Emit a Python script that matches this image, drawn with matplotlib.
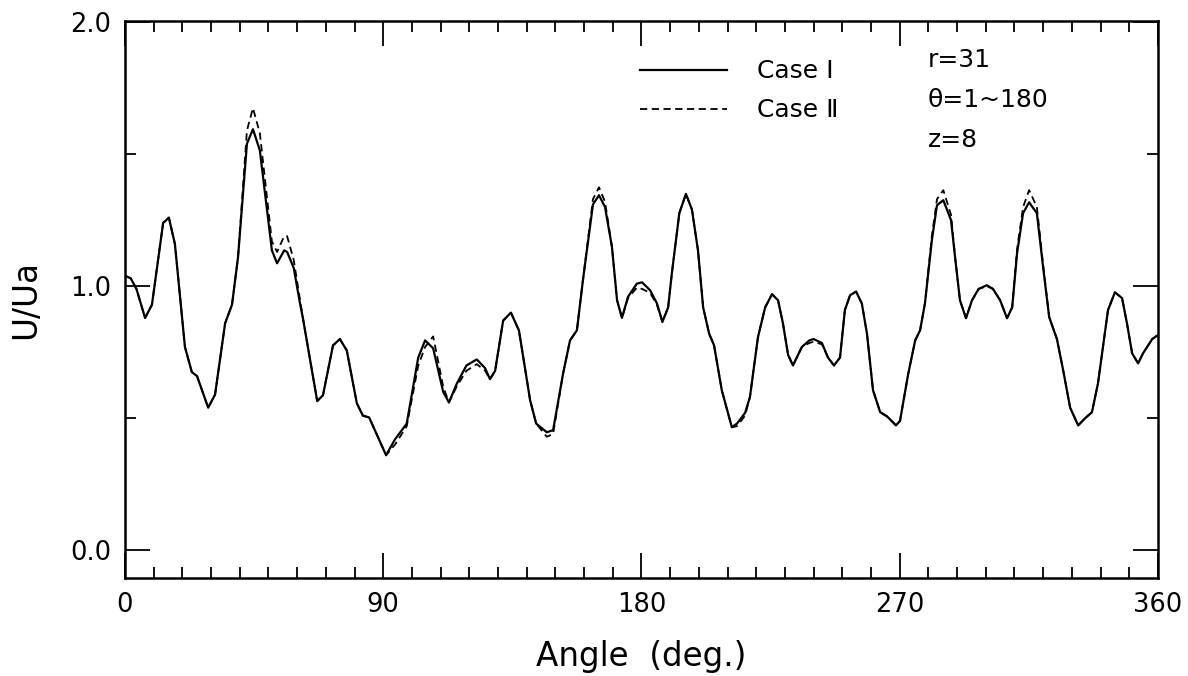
import matplotlib
matplotlib.use("Agg")
import matplotlib.pyplot as plt
from matplotlib.ticker import MultipleLocator

plt.rcParams["font.family"] = ["DejaVu Sans"]

# angle (deg.)
angle = [0, 2, 4, 7, 9.4, 13.3, 15.3, 17.4, 20.9, 23.3, 25.1, 29, 31.4, 34.9,
         37.3, 39.4, 42.5, 44.6, 47, 51.2, 53, 55.5, 56.5, 58.8, 61, 62, 67,
         69, 72.5, 74.9, 77.3, 80.8, 82.9, 85.1, 91, 94.1, 98.2, 102.2, 104.6,
         107.4, 110.9, 112.9, 115.6, 119, 122.6, 125.5, 127.2, 129, 131.8,
         134.5, 137.3, 141.2, 143.3, 147, 149.2, 152.7, 155.1, 157.5, 159.6,
         163.1, 165.2, 167.3, 169.7, 171.5, 173.2, 175.3, 178.4, 180.2, 183,
         185.4, 187.3, 189.3, 190.6, 193.2, 195.5, 197.6, 199.7, 201.5, 203.6,
         205.3, 208, 211.5, 213.3, 216.1, 217.8, 220.6, 223.1, 225.5, 227.6,
         229.3, 231.1, 232.8, 235.9, 238.5, 240, 242.9, 245, 247.1, 249.2,
         250.9, 252.7, 254.8, 256.8, 258.6, 260.7, 263.2, 265.6, 268.7, 270.1,
         273, 275.4, 277.1, 278.8, 281.2, 283, 285.2, 287.9, 289.3, 291, 293.1,
         295.2, 297.5, 300.4, 302.5, 305, 307.4, 309.2, 310.9, 313, 315.1,
         317.8, 320, 322.1, 324.8, 327, 329.4, 332.2, 334.6, 337, 339.1, 342.6,
         345, 347.5, 349.2, 351, 353.1, 354.8, 358, 360]

case1 = [1.04, 1.03, 0.99, 0.88, 0.93, 1.24, 1.26, 1.16, 0.77, 0.675, 0.66,
         0.54, 0.59, 0.86, 0.93, 1.11, 1.54, 1.595, 1.515, 1.136, 1.087,
         1.136, 1.13, 1.07, 0.935, 0.88, 0.565, 0.587, 0.776, 0.80, 0.757,
         0.557, 0.51, 0.503, 0.36, 0.42, 0.48, 0.73, 0.795, 0.765, 0.60, 0.56,
         0.63, 0.70, 0.723, 0.69, 0.648, 0.68, 0.87, 0.90, 0.833, 0.568, 0.48,
         0.447, 0.455, 0.67, 0.795, 0.833, 1.023, 1.31, 1.345, 1.30, 1.15,
         0.947, 0.88, 0.96, 1.01, 1.015, 0.985, 0.935, 0.865, 0.92, 1.05,
         1.277, 1.35, 1.29, 1.136, 0.92, 0.82, 0.776, 0.606, 0.466, 0.48,
         0.52, 0.58, 0.807, 0.92, 0.97, 0.947, 0.86, 0.74, 0.70, 0.77, 0.795,
         0.80, 0.785, 0.73, 0.70, 0.73, 0.91, 0.966, 0.98, 0.935, 0.82, 0.606,
         0.523, 0.507, 0.473, 0.49, 0.67, 0.795, 0.833, 0.935, 1.174, 1.307,
         1.326, 1.25, 1.11, 0.947, 0.879, 0.947, 0.99, 1.004, 0.99, 0.947,
         0.879, 0.92, 1.125, 1.277, 1.318, 1.277, 1.07, 0.883, 0.80, 0.68,
         0.54, 0.473, 0.50, 0.523, 0.632, 0.91, 0.977, 0.955, 0.86, 0.746,
         0.708, 0.746, 0.80, 0.815]

case2 = [1.04, 1.03, 0.99, 0.88, 0.93, 1.24, 1.26, 1.16, 0.77, 0.675, 0.66,
         0.54, 0.59, 0.86, 0.93, 1.11, 1.59, 1.675, 1.58, 1.17, 1.13,
         1.19, 1.19, 1.10, 0.95, 0.88, 0.565, 0.587, 0.776, 0.80, 0.757,
         0.557, 0.51, 0.503, 0.36, 0.40, 0.47, 0.70, 0.77, 0.81, 0.62, 0.56,
         0.62, 0.68, 0.705, 0.68, 0.648, 0.68, 0.87, 0.90, 0.833, 0.568, 0.48,
         0.43, 0.44, 0.67, 0.795, 0.833, 1.023, 1.33, 1.375, 1.32, 1.15,
         0.947, 0.88, 0.955, 0.995, 0.99, 0.975, 0.93, 0.865, 0.92, 1.05,
         1.277, 1.35, 1.29, 1.136, 0.92, 0.82, 0.776, 0.606, 0.466, 0.47,
         0.51, 0.58, 0.807, 0.92, 0.97, 0.947, 0.86, 0.74, 0.70, 0.77, 0.785,
         0.79, 0.78, 0.73, 0.70, 0.73, 0.91, 0.966, 0.98, 0.935, 0.82, 0.606,
         0.523, 0.507, 0.473, 0.49, 0.67, 0.795, 0.833, 0.935, 1.19, 1.33,
         1.364, 1.27, 1.11, 0.947, 0.879, 0.947, 0.99, 1.0, 0.99, 0.947,
         0.879, 0.92, 1.14, 1.30, 1.364, 1.30, 1.08, 0.883, 0.80, 0.68,
         0.54, 0.473, 0.50, 0.523, 0.632, 0.91, 0.977, 0.955, 0.86, 0.746,
         0.708, 0.746, 0.80, 0.815]

labels = ["Case \u2160", "Case \u2161"]
params = ["r=31", "\u03b8=1~180", "z=8"]

fig = plt.figure(figsize=(11.88, 6.76), dpi=100)
ax = fig.add_axes([0.1052, 0.145, 0.8695, 0.824])

ax.plot(angle, case1, color="black", lw=1.6, ls="-", label=labels[0])
ax.plot(angle, case2, color="black", lw=1.3, ls=(0, (4, 2.5)), label=labels[1])

ax.set_xlim(0, 360)
ax.set_ylim(-0.105, 2.005)
ax.xaxis.set_major_locator(MultipleLocator(90))
ax.xaxis.set_minor_locator(MultipleLocator(10))
ax.yaxis.set_major_locator(MultipleLocator(1.0))
ax.yaxis.set_minor_locator(MultipleLocator(0.5))
ax.yaxis.set_major_formatter(plt.FormatStrFormatter("%.1f"))

ax.tick_params(which="both", direction="in", top=True, right=True,
               width=1.3, color="black", labelsize=18.5)
ax.tick_params(which="major", length=18, pad=10)
ax.tick_params(which="minor", length=8)
for s in ax.spines.values():
    s.set_linewidth(1.8)

ax.set_xlabel("Angle  (deg.)", fontsize=23.5, labelpad=16)
ax.set_ylabel("U/Ua", fontsize=23.5, labelpad=20)

ax.legend(loc="upper left", bbox_to_anchor=(0.4985, 0.931), frameon=False,
          fontsize=18, handlelength=3.5, handletextpad=1.2,
          labelspacing=0.6, borderpad=0, borderaxespad=0)

ax.text(279.9, 1.856, params[0], fontsize=18, va="center", ha="left")
ax.text(279.9, 1.705, params[1], fontsize=18, va="center", ha="left")
ax.text(279.9, 1.553, params[2], fontsize=18, va="center", ha="left")

fig.savefig("out.png", dpi=100)
